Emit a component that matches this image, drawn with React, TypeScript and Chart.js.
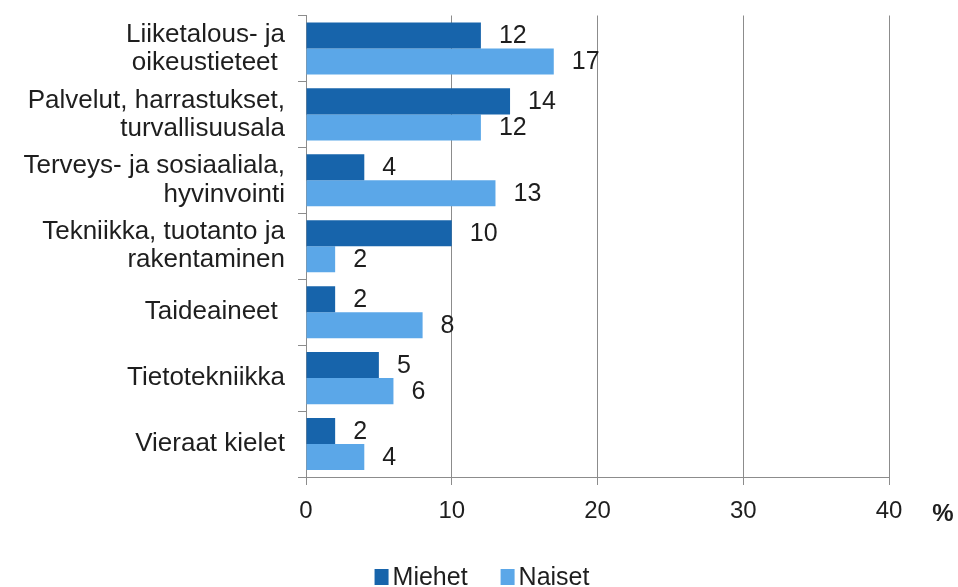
import React, { useEffect, useRef } from "react";
import { Chart, registerables } from "chart.js";

Chart.register(...registerables);

const categories: (string | string[])[] = [
  ["Liiketalous- ja", "oikeustieteet "],
  ["Palvelut, harrastukset,", "turvallisuusala"],
  ["Terveys- ja sosiaaliala,", "hyvinvointi"],
  ["Tekniikka, tuotanto ja", "rakentaminen"],
  "Taideaineet ",
  "Tietotekniikka",
  "Vieraat kielet",
];
const seriesNames = ["Miehet", "Naiset"];
const miehet = [12, 14, 4, 10, 2, 5, 2];
const naiset = [17, 12, 13, 2, 8, 6, 4];
const xMin = 0;
const xMax = 40;
const xStep = 10;
const unitLabel = "%";

const DARK = "#1764AB";
const LIGHT = "#5BA7E8";
const GRID = "#8c8c8c";
const TEXT = "#1e1e1e";
const FONT = "'Liberation Sans', Arial, sans-serif";

const valueLabels = {
  id: "valueLabels",
  afterDatasetsDraw(chart: any) {
    const ctx = chart.ctx;
    ctx.save();
    ctx.font = `25px ${FONT}`;
    ctx.fillStyle = TEXT;
    ctx.textAlign = "left";
    ctx.textBaseline = "middle";
    chart.data.datasets.forEach((ds: any, di: number) => {
      const meta = chart.getDatasetMeta(di);
      meta.data.forEach((bar: any, i: number) => {
        ctx.fillText(String(ds.data[i]), bar.x + 18, bar.y + 1);
      });
    });
    ctx.restore();
  },
};

const extras = {
  id: "extras",
  afterDraw(chart: any) {
    const ctx = chart.ctx;
    ctx.save();
    ctx.font = `bold 24px ${FONT}`;
    ctx.fillStyle = TEXT;
    ctx.textAlign = "center";
    ctx.textBaseline = "middle";
    ctx.fillText(unitLabel, 943, 514);
    ctx.font = `25px ${FONT}`;
    ctx.textAlign = "left";
    ctx.textBaseline = "alphabetic";
    const items = chart.data.datasets.map((d: any) => ({ text: d.label, color: d.backgroundColor }));
    const boxW = 14;
    const boxH = 16;
    const gapBoxText = 4;
    const gapItems = 33;
    let total = 0;
    const widths = items.map((it: any) => ctx.measureText(it.text).width);
    items.forEach((_: any, i: number) => {
      total += boxW + gapBoxText + widths[i] + (i < items.length - 1 ? gapItems : 0);
    });
    let x = 482 - total / 2;
    const baseY = 585;
    items.forEach((it: any, i: number) => {
      ctx.fillStyle = it.color;
      ctx.fillRect(x, baseY - boxH, boxW, boxH);
      ctx.fillStyle = TEXT;
      ctx.fillText(it.text, x + boxW + gapBoxText, baseY);
      x += boxW + gapBoxText + widths[i] + gapItems;
    });
    ctx.restore();
  },
};

export default function App() {
  const ref = useRef<HTMLCanvasElement | null>(null);
  useEffect(() => {
    if (!ref.current) return;
    const chart = new Chart(ref.current, {
      type: "bar",
      data: {
        labels: categories,
        datasets: [
          {
            label: seriesNames[0],
            data: miehet,
            backgroundColor: DARK,
            categoryPercentage: 0.79,
            barPercentage: 1,
          },
          {
            label: seriesNames[1],
            data: naiset,
            backgroundColor: LIGHT,
            categoryPercentage: 0.79,
            barPercentage: 1,
          },
        ],
      },
      options: {
        indexAxis: "y",
        animation: false,
        responsive: true,
        maintainAspectRatio: false,
        layout: { padding: { left: 0, right: 69, top: 15.5, bottom: 0 } },
        plugins: {
          legend: { display: false },
          tooltip: { enabled: false },
        },
        scales: {
          x: {
            min: xMin,
            max: xMax,
            ticks: {
              stepSize: xStep,
              color: TEXT,
              font: { family: FONT, size: 24 },
              padding: 12,
              maxRotation: 0,
            },
            grid: {
              color: GRID,
              lineWidth: 1,
              drawTicks: true,
              tickLength: 8,
            },
            border: { display: true, color: GRID, width: 1 },
            afterFit(scale: any) {
              scale.height = 110;
              scale.paddingLeft = 0;
              scale.paddingRight = 0;
            },
          },
          y: {
            ticks: {
              color: TEXT,
              font: { family: FONT, size: 26, lineHeight: 1.08 },
              padding: 13,
              autoSkip: false,
            },
            grid: {
              color: GRID,
              drawOnChartArea: false,
              drawTicks: true,
              tickLength: 8,
              offset: true,
            },
            border: { display: true, color: GRID, width: 1 },
            afterFit(scale: any) {
              scale.width = 306;
              scale.paddingTop = 0;
              scale.paddingBottom = 0;
            },
          },
        },
      },
      plugins: [valueLabels, extras],
    });
    return () => chart.destroy();
  }, []);
  return (
    <div style={{ position: "fixed", left: 0, top: 0, width: 958, height: 587, background: "#fff" }}>
      <canvas ref={ref} />
    </div>
  );
}
